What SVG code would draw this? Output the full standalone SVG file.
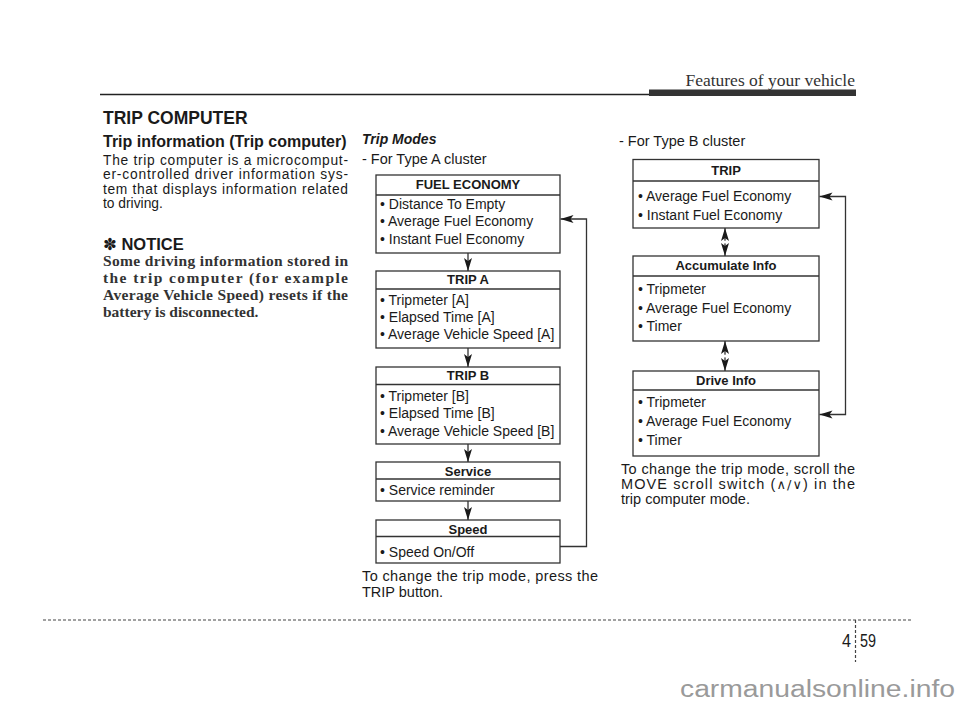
<svg xmlns="http://www.w3.org/2000/svg" width="960" height="707" viewBox="0 0 960 707">
<defs>
<marker id="ah" markerUnits="userSpaceOnUse" markerWidth="14" markerHeight="9" refX="13" refY="4.5" orient="auto-start-reverse" viewBox="0 0 14 9">
<path d="M0,0.5 L13,4.5 L0,8.5 L3,4.5 z" fill="#1a1a1a"/>
</marker>
</defs>
<style>
.sans{font-family:"Liberation Sans",Arial,"DejaVu Sans",sans-serif;fill:#1a1a1a}
.serif{font-family:"Liberation Serif","Times New Roman",serif;fill:#333}
.nb{font-family:"Liberation Serif","Times New Roman",serif;font-weight:bold;font-size:15.5px;fill:#333}
.box{fill:#fff;stroke:#333;stroke-width:1.3}
.div{stroke:#333;stroke-width:1.3}
.hd{font-family:"Liberation Sans",Arial,sans-serif;font-weight:bold;font-size:13px;text-anchor:middle;fill:#1a1a1a}
.it{font-family:"Liberation Sans",Arial,sans-serif;font-size:14px;fill:#1a1a1a}
.body{font-family:"Liberation Sans",Arial,sans-serif;font-size:13.8px;fill:#1a1a1a}
.cap{font-family:"Liberation Sans",Arial,"DejaVu Sans",sans-serif;font-size:14.5px;fill:#1a1a1a}
.conn{fill:none;stroke:#333;stroke-width:1.3}
</style>
<rect width="960" height="707" fill="#fff"/>

<!-- page header -->
<line x1="100" y1="94.5" x2="650" y2="94.5" stroke="#222" stroke-width="1.3"/>
<rect x="649" y="89.5" width="207" height="6.5" fill="#333"/>
<text class="serif" x="855" y="86" font-size="17.5" text-anchor="end">Features of your vehicle</text>

<!-- left column -->
<text class="sans" x="103" y="124" font-size="17.5" font-weight="bold">TRIP COMPUTER</text>
<text class="sans" x="103" y="147" font-size="16" font-weight="bold">Trip information (Trip computer)</text>
<text class="body" x="103" y="164.5" textLength="245" lengthAdjust="spacing">The trip computer is a microcomput-</text>
<text class="body" x="103" y="179" textLength="245" lengthAdjust="spacing">er-controlled driver information sys-</text>
<text class="body" x="103" y="193.5" textLength="245" lengthAdjust="spacing">tem that displays information related</text>
<text class="body" x="103" y="208">to driving.</text>
<text class="sans" x="103" y="250" font-size="16.5" font-weight="bold" style="font-family:'Liberation Sans','DejaVu Sans',sans-serif">✽ NOTICE</text>
<text class="nb" x="103" y="266" textLength="245" lengthAdjust="spacing">Some driving information stored in</text>
<text class="nb" x="103" y="283" textLength="245" lengthAdjust="spacing">the trip computer (for example</text>
<text class="nb" x="103" y="300" textLength="245" lengthAdjust="spacing">Average Vehicle Speed) resets if the</text>
<text class="nb" x="103" y="317">battery is disconnected.</text>

<!-- Type A -->
<text class="sans" x="362" y="144" font-size="14" font-weight="bold" font-style="italic">Trip Modes</text>
<text class="cap" x="362" y="164">- For Type A cluster</text>

<g id="a-fuel">
<rect class="box" x="376" y="175" width="184" height="78"/>
<line class="div" x1="376" y1="195" x2="560" y2="195"/>
<text class="hd" x="468" y="189">FUEL ECONOMY</text>
<text class="it" x="380" y="209">• Distance To Empty</text>
<text class="it" x="380" y="226">• Average Fuel Economy</text>
<text class="it" x="380" y="243.5">• Instant Fuel Economy</text>
</g>
<g id="a-tripa">
<rect class="box" x="376" y="271" width="184" height="77"/>
<line class="div" x1="376" y1="289" x2="560" y2="289"/>
<text class="hd" x="468" y="284">TRIP A</text>
<text class="it" x="380" y="305">• Tripmeter [A]</text>
<text class="it" x="380" y="322">• Elapsed Time [A]</text>
<text class="it" x="380" y="339">• Average Vehicle Speed [A]</text>
</g>
<g id="a-tripb">
<rect class="box" x="376" y="367" width="184" height="77"/>
<line class="div" x1="376" y1="384.5" x2="560" y2="384.5"/>
<text class="hd" x="468" y="380">TRIP B</text>
<text class="it" x="380" y="401">• Tripmeter [B]</text>
<text class="it" x="380" y="418">• Elapsed Time [B]</text>
<text class="it" x="380" y="435.5">• Average Vehicle Speed [B]</text>
</g>
<g id="a-service">
<rect class="box" x="376" y="462" width="184" height="39"/>
<line class="div" x1="376" y1="479" x2="560" y2="479"/>
<text class="hd" x="468" y="476">Service</text>
<text class="it" x="380" y="495">• Service reminder</text>
</g>
<g id="a-speed">
<rect class="box" x="376" y="520" width="184" height="43"/>
<line class="div" x1="376" y1="536.5" x2="560" y2="536.5"/>
<text class="hd" x="468" y="534">Speed</text>
<text class="it" x="380" y="556.5">• Speed On/Off</text>
</g>
<text class="cap" x="362" y="581" textLength="236" lengthAdjust="spacing">To change the trip mode, press the</text>
<text class="cap" x="362" y="597">TRIP button.</text>

<!-- Type B -->
<text class="cap" x="619" y="146">- For Type B cluster</text>
<g id="b-trip">
<rect class="box" x="633" y="159.5" width="186" height="68.5"/>
<line class="div" x1="633" y1="181" x2="819" y2="181"/>
<text class="hd" x="726" y="174.5">TRIP</text>
<text class="it" x="638" y="201">• Average Fuel Economy</text>
<text class="it" x="638" y="220">• Instant Fuel Economy</text>
</g>
<g id="b-accum">
<rect class="box" x="633" y="256" width="186" height="85"/>
<line class="div" x1="633" y1="276" x2="819" y2="276"/>
<text class="hd" x="726" y="270">Accumulate Info</text>
<text class="it" x="638" y="293.5">• Tripmeter</text>
<text class="it" x="638" y="312.5">• Average Fuel Economy</text>
<text class="it" x="638" y="331">• Timer</text>
</g>
<g id="b-drive">
<rect class="box" x="633" y="371" width="186" height="85"/>
<line class="div" x1="633" y1="390" x2="819" y2="390"/>
<text class="hd" x="726" y="384.5">Drive Info</text>
<text class="it" x="638" y="407">• Tripmeter</text>
<text class="it" x="638" y="426">• Average Fuel Economy</text>
<text class="it" x="638" y="444.5">• Timer</text>
</g>
<text class="cap" x="621" y="473.5" textLength="234" lengthAdjust="spacing">To change the trip mode, scroll the</text>
<text class="cap" x="621" y="489" textLength="234" lengthAdjust="spacing">MOVE scroll switch (<tspan font-family="DejaVu Sans,sans-serif" font-size="13">∧/∨</tspan>) in the</text>
<text class="cap" x="621" y="504">trip computer mode.</text>

<!-- connectors -->
<g id="connectors">
<line class="conn" x1="468" y1="253" x2="468" y2="271" marker-end="url(#ah)"/>
<line class="conn" x1="468" y1="348" x2="468" y2="367" marker-end="url(#ah)"/>
<line class="conn" x1="468" y1="444" x2="468" y2="462" marker-end="url(#ah)"/>
<line class="conn" x1="468" y1="501" x2="468" y2="520" marker-end="url(#ah)"/>
<path class="conn" d="M560,546.5 H586.5 V219 H560.5" marker-end="url(#ah)"/>
<line class="conn" x1="725" y1="228" x2="725" y2="256" marker-start="url(#ah)" marker-end="url(#ah)"/>
<circle cx="725" cy="242" r="1.6" fill="#fff"/>
<line class="conn" x1="725" y1="341" x2="725" y2="371" marker-start="url(#ah)" marker-end="url(#ah)"/>
<circle cx="725" cy="356" r="1.6" fill="#fff"/>
<path class="conn" d="M819.5,196.5 H845.5 V414.5 H819.5" marker-start="url(#ah)" marker-end="url(#ah)"/>
</g>

<!-- footer -->
<line x1="43" y1="620" x2="913" y2="620" stroke="#444" stroke-width="1.2" stroke-dasharray="3,2"/>
<line x1="855.5" y1="620" x2="855.5" y2="662" stroke="#444" stroke-width="1.2" stroke-dasharray="3,2"/>
<text class="sans" x="851" y="647" font-size="18" text-anchor="end" textLength="9" lengthAdjust="spacingAndGlyphs">4</text>
<text class="sans" x="860" y="647" font-size="18" textLength="16" lengthAdjust="spacingAndGlyphs">59</text>
<text x="680" y="697" font-family="Liberation Sans,Arial,sans-serif" font-size="23" fill="#9a9a9a" textLength="275" lengthAdjust="spacingAndGlyphs">carmanualsonline.info</text>
</svg>
